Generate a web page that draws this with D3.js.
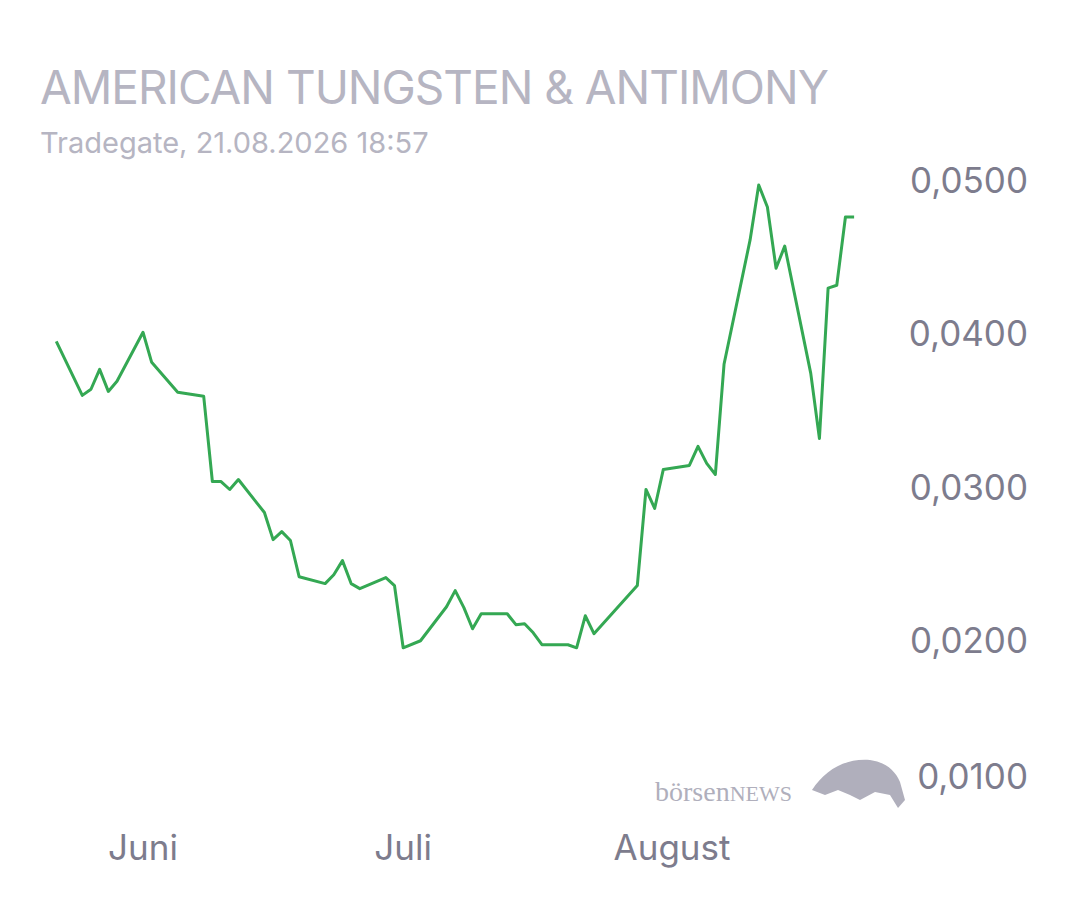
<!DOCTYPE html><html><head><meta charset="utf-8"><script src="https://cdn.jsdelivr.net/npm/d3@7"></script>
<style>body{margin:0;background:#fff}</style></head><body><svg id="c" width="1080" height="900"></svg>
<script>
const dates=["2026-05-22","2026-05-25","2026-05-26","2026-05-27","2026-05-28","2026-05-29","2026-06-01","2026-06-02","2026-06-05","2026-06-08","2026-06-09","2026-06-10","2026-06-11","2026-06-12","2026-06-15","2026-06-16","2026-06-17","2026-06-18","2026-06-19","2026-06-22","2026-06-23","2026-06-24","2026-06-25","2026-06-26","2026-06-29","2026-06-30","2026-07-01","2026-07-03","2026-07-06","2026-07-07","2026-07-08","2026-07-09","2026-07-10","2026-07-13","2026-07-14","2026-07-15","2026-07-16","2026-07-17","2026-07-20","2026-07-21","2026-07-22","2026-07-23","2026-07-28","2026-07-29","2026-07-30","2026-07-31","2026-08-03","2026-08-04","2026-08-05","2026-08-06","2026-08-07","2026-08-10","2026-08-11","2026-08-12","2026-08-13","2026-08-14","2026-08-17","2026-08-18","2026-08-19","2026-08-20","2026-08-21","2026-08-22"];
const prices=[0.03954,0.03601,0.03641,0.03771,0.03627,0.03693,0.04013,0.03817,0.03621,0.03595,0.03039,0.03039,0.02987,0.03052,0.02837,0.0266,0.02712,0.02654,0.02418,0.02373,0.02431,0.02523,0.02373,0.0234,0.02412,0.0236,0.01954,0.02,0.02222,0.02327,0.02216,0.02078,0.02176,0.02176,0.02105,0.02111,0.02052,0.01974,0.01974,0.01954,0.02163,0.02046,0.0236,0.02987,0.02863,0.03118,0.03144,0.03268,0.03157,0.03085,0.03804,0.04614,0.04974,0.0483,0.04431,0.04575,0.03745,0.0332,0.04301,0.0432,0.04765,0.04765];
const yTicks=[0.05,0.04,0.03,0.02,0.01];
const yLabels=["0,0500","0,0400","0,0300","0,0200","0,0100"];
const monthTicks=["2026-06-01","2026-07-01","2026-08-01"];
const monthLabels=["Juni","Juli","August"];
const p=d3.timeParse("%Y-%m-%d");
const svg=d3.select("#c");
const x=d3.scaleTime().domain([p("2026-06-01"),p("2026-08-01")]).range([143,672]);
const y=d3.scaleLinear().domain([0.01,0.05]).range([794,181]);
const F="Inter, 'Noto Sans', sans-serif";
svg.append("text").attr("x",40).attr("y",104).attr("font-family",F).attr("font-size",46).attr("fill","#b6b5c2").attr("letter-spacing",-1).text("AMERICAN TUNGSTEN & ANTIMONY");
svg.append("text").attr("x",40).attr("y",153).attr("font-family",F).attr("font-size",29).attr("fill","#b6b5c2").text("Tradegate, 21.08.2026 18:57");
yTicks.forEach((t,i)=>svg.append("text").attr("x",1028).attr("y",(i==4?y(t)-17:y(t))+12).attr("text-anchor","end").attr("font-family",F).attr("font-size",35).attr("fill","#7d7c8d").text(yLabels[i]));
monthTicks.forEach((t,i)=>svg.append("text").attr("x",x(p(t))).attr("y",860).attr("text-anchor","middle").attr("font-family",F).attr("font-size",35).attr("fill","#7d7c8d").text(monthLabels[i]));
// logo
const lg=svg.append("g");
lg.append("text").attr("x",655).attr("y",801).attr("font-family","'Liberation Serif', serif").attr("font-size",28).attr("fill","#b0afbc")
  .call(t=>{t.append("tspan").text("börsen");t.append("tspan").attr("font-size",22).text("NEWS");});
lg.append("path").attr("d","M812,790 C825,770 845,758 870,760 C885,762 895,770 900,782 L905,800 L898,808 L890,795 L875,792 L860,800 L850,795 L838,790 L825,795 Z").attr("fill","#b0afbc");
const data=dates.map((d,i)=>({d:p(d),v:prices[i]}));
svg.append("path").datum(data).attr("fill","none").attr("stroke","#34a853").attr("stroke-width",3).attr("stroke-linejoin","round")
  .attr("d",d3.line().x(d=>x(d.d)).y(d=>y(d.v)));
</script></body></html>
